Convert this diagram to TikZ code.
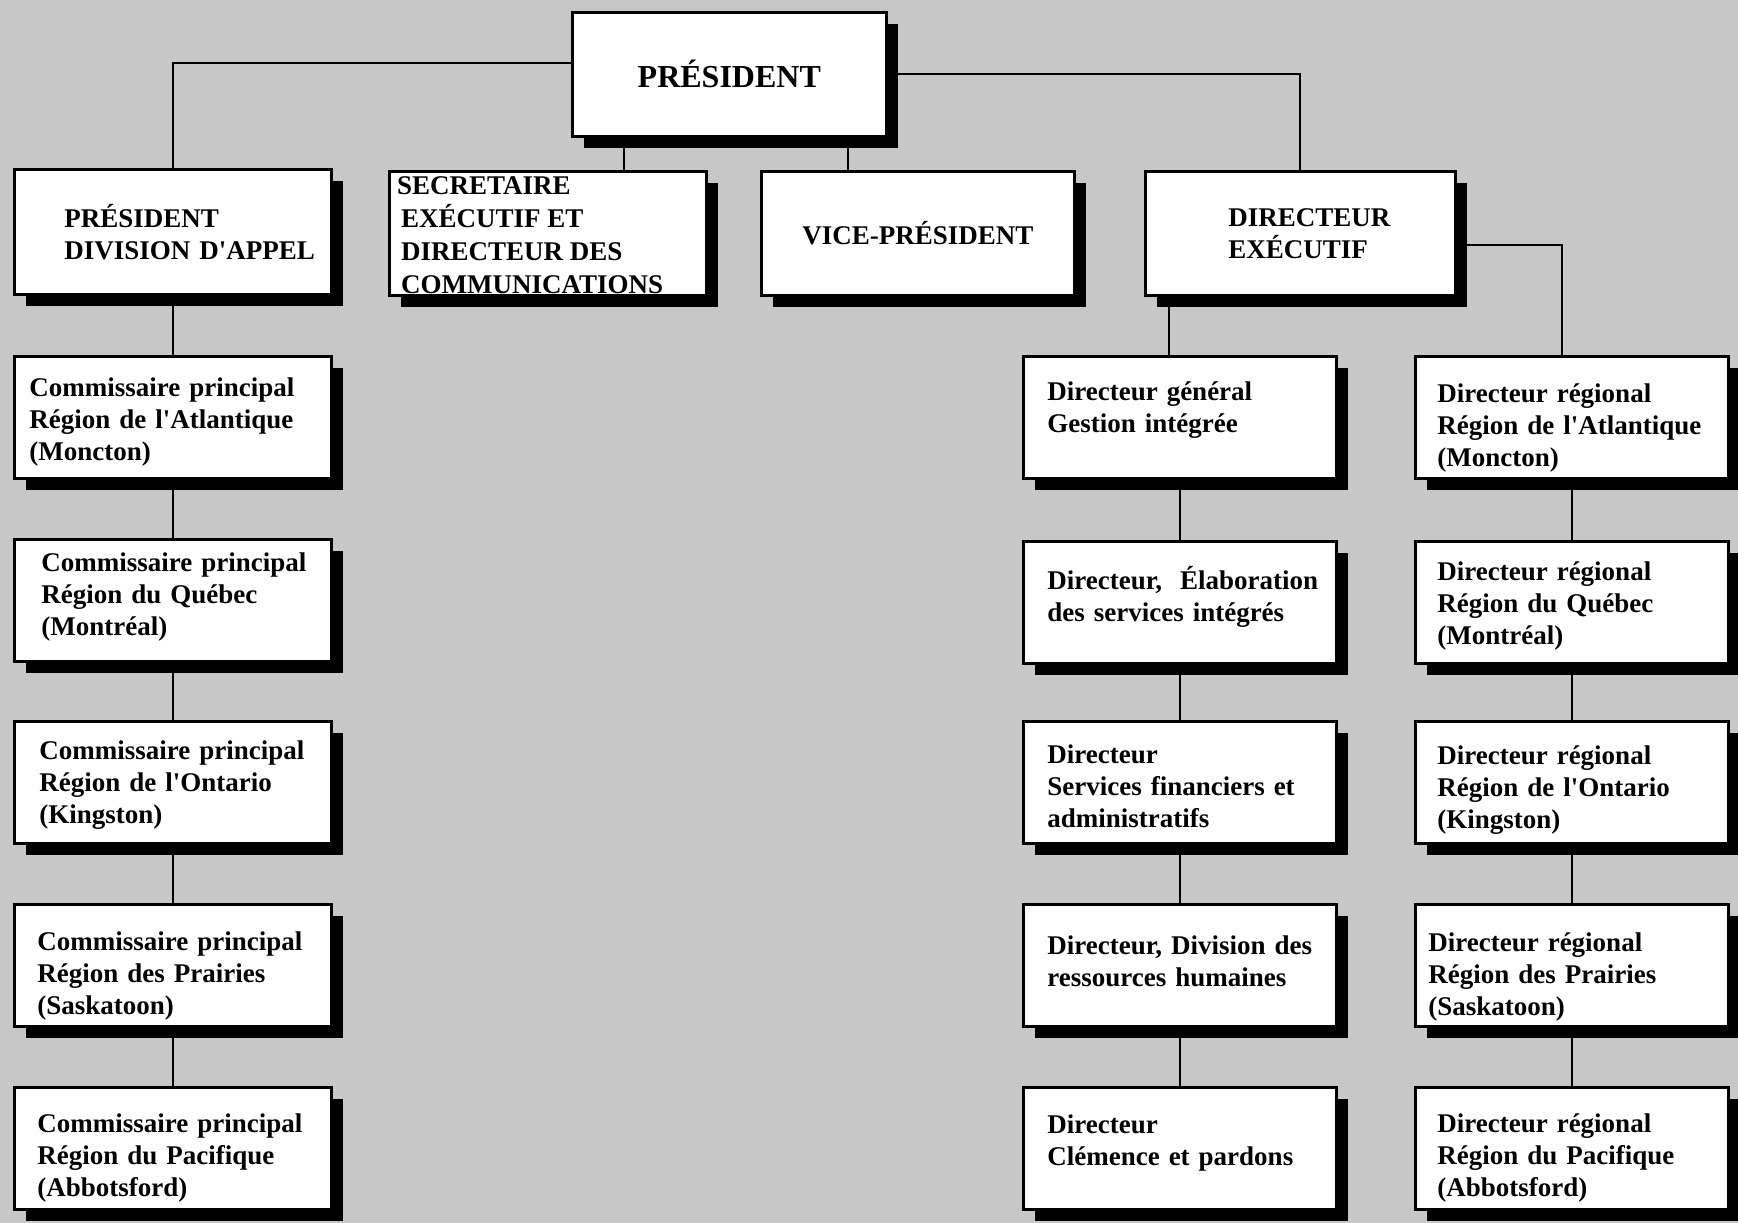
\documentclass[tikz,border=0pt]{standalone}
\usepackage{fontspec}
\setmainfont{Liberation Serif}
\usetikzlibrary{shadows}

\newcommand{\apo}{\textquotesingle}

\tikzset{
  fond/.style={fill=black!22},
  lien/.style={line width=2pt},
  boite/.style={draw, line width=2.6pt, fill=white, anchor=north west,
    drop shadow={shadow xshift=12pt, shadow yshift=-12pt, fill=black, opacity=1}},
  texte/.style={font=\fontsize{27}{32}\selectfont\bfseries},
  gauche/.style={boite, texte, align=left, inner xsep=12pt, inner ysep=2pt, text width=293pt, minimum height=122pt,
    execute at begin node={\leftskip=#1}},
  gauche/.default=14pt,
  droite/.style={boite, texte, align=left, inner xsep=12pt, inner ysep=2pt, text width=289pt, minimum height=122pt,
    execute at begin node={\leftskip=#1}},
  droite/.default=12pt,
  bas/.style={execute at begin node={\rule{0pt}{#1}}},
  haut/.style={execute at end node={\rule[-#1]{0pt}{#1}}},
  tete/.style={boite, texte, align=left, minimum height=124pt}
}

\begin{document}
\begin{tikzpicture}[x=1pt,y=-1pt]
\useasboundingbox (0,0) rectangle (1738,1223);
\fill[fond] (0,0) rectangle (1738,1223);

% president
\node[tete, minimum width=314pt, font=\fontsize{32}{36}\selectfont\bfseries] (pres) at (571,11) {PRÉSIDENT};

% second row
\node[gauche=38pt, minimum height=125pt] (pda) at (13,168) {PRÉSIDENT\\DIVISION D\apo APPEL};
\node[tete, minimum width=317pt] (sec) at (388,170) {};
\node[texte, anchor=north west, inner sep=0pt, align=left, font=\fontsize{27}{33}\selectfont\bfseries] (sectxt) at (397,176)
  {SECRETAIRE\\\hspace*{4pt}EXÉCUTIF ET\\\hspace*{4pt}DIRECTEUR DES\\\hspace*{4pt}COMMUNICATIONS};
\node[tete, minimum width=313pt, align=center] (vp) at (760,170) {VICE-PRÉSIDENT};
\node[gauche=71pt, text width=286pt, minimum height=124pt] (de) at (1144,170) {DIRECTEUR\\EXÉCUTIF};

% commissaires
\node[gauche=3pt, bas=29pt] (c1) at (13,355) {Commissaire principal\\Région de l\apo Atlantique\\(Moncton)};
\node[gauche=15pt, haut=12pt] (c2) at (13,538) {Commissaire principal\\Région du Québec\\(Montréal)};
\node[gauche=13pt, bas=25pt] (c3) at (13,720) {Commissaire principal\\Région de l\apo Ontario\\(Kingston)};
\node[gauche=11pt, bas=40pt] (c4) at (13,903) {Commissaire principal\\Région des Prairies\\(Saskatoon)};
\node[gauche=11pt, bas=38pt] (c5) at (13,1086) {Commissaire principal\\Région du Pacifique\\(Abbotsford)};

% gestion
\node[droite, haut=21pt] (g1) at (1022,355) {Directeur général\\Gestion intégrée};
\node[droite, haut=17pt] (g2) at (1022,540) {Directeur,~ Élaboration\\des services intégrés};
\node[droite, bas=27pt] (g3) at (1022,720) {Directeur\\Services financiers et\\administratifs};
\node[droite, haut=9pt] (g4) at (1022,903) {Directeur, Division des\\ressources humaines};
\node[droite, haut=17pt] (g5) at (1022,1086) {Directeur\\Clémence et pardons};

% regions
\node[droite=10pt, bas=40pt] (r1) at (1414,355) {Directeur régional\\Région de l\apo Atlantique\\(Moncton)};
\node[droite=10pt, bas=27pt] (r2) at (1414,540) {Directeur régional\\Région du Québec\\(Montréal)};
\node[droite=10pt, bas=34pt] (r3) at (1414,720) {Directeur régional\\Région de l\apo Ontario\\(Kingston)};
\node[droite=1pt, bas=42pt] (r4) at (1414,903) {Directeur régional\\Région des Prairies\\(Saskatoon)};
\node[droite=10pt, bas=38pt] (r5) at (1414,1086) {Directeur régional\\Région du Pacifique\\(Abbotsford)};

% liens
\draw[lien] ([yshift=11pt]pres.west) -| (pda.north);
\draw[lien] (pres.east) -| (de.north);
\coordinate (ps) at ([xshift=-105pt]pres.south);
\coordinate (pv) at ([xshift=119pt]pres.south);
\draw[lien] (ps) -- (ps |- sec.north);
\draw[lien] (pv) -- (pv |- vp.north);
\draw[lien] (pda.south) -- (c1.north);
\coordinate (dg) at ([xshift=-11pt]g1.north);
\draw[lien] (dg |- de.south) -- (dg);
\coordinate (dr) at ([xshift=-10pt]r1.north);
\draw[lien] ([yshift=-12pt]de.east) -| (dr);
\foreach \col in {c,g,r}
  \foreach \i/\j in {1/2,2/3,3/4,4/5}
    \draw[lien] (\col\i.south) -- (\col\j.north);
\end{tikzpicture}
\end{document}
